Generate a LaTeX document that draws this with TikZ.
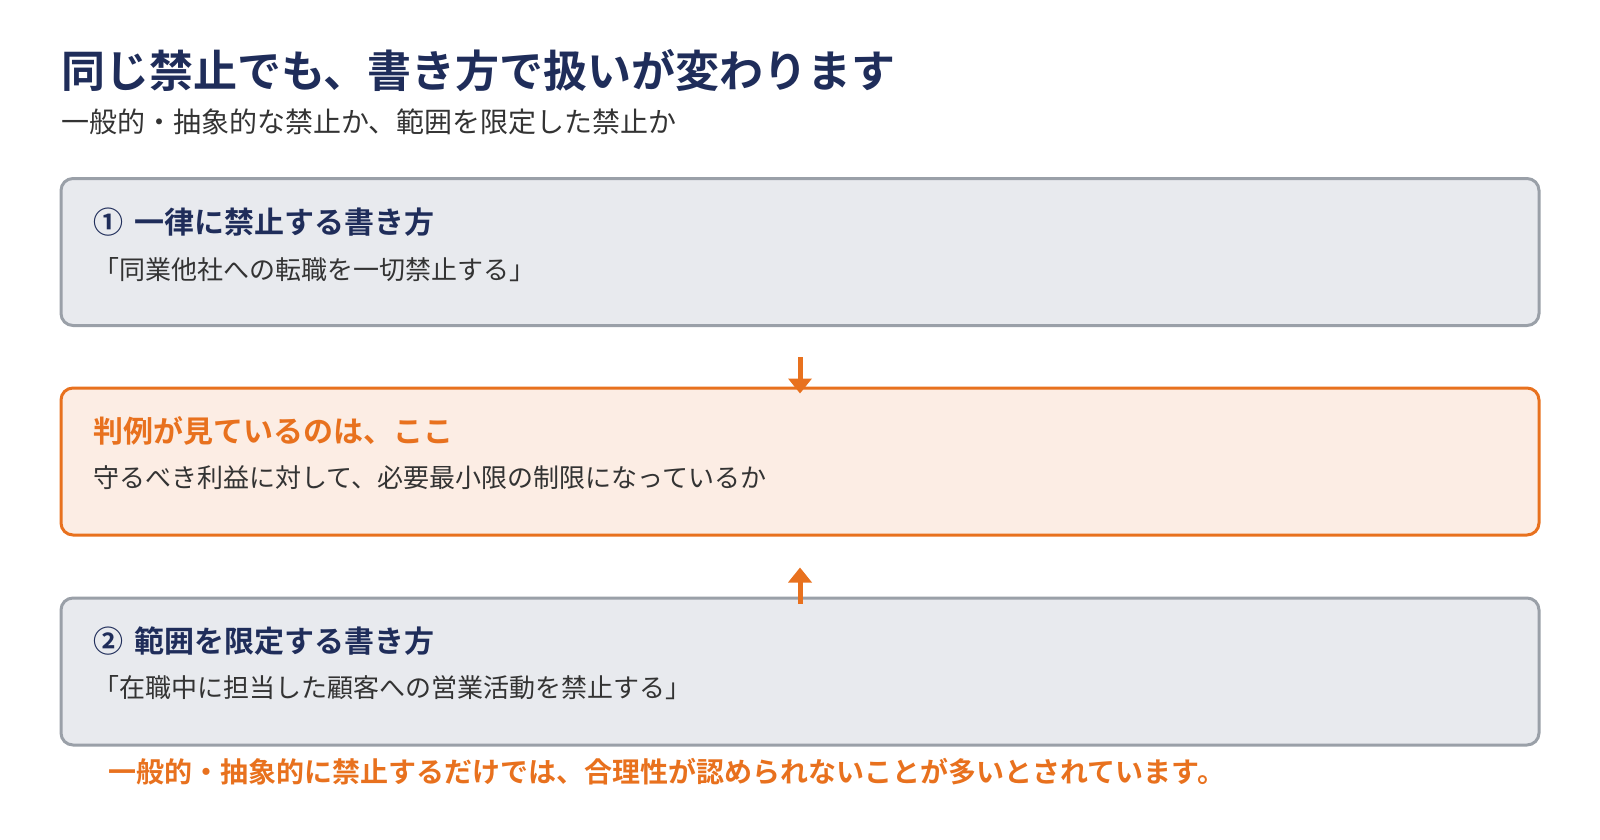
\documentclass[tikz,border=0pt]{standalone}
\usepackage{fontspec}
\setmainfont{Noto Sans CJK JP}[BoldFont={Noto Sans CJK JP Bold}]
\usepackage{tikz}
\usetikzlibrary{arrows.meta}
\definecolor{navy}{HTML}{1F2D5A}
\definecolor{ink}{HTML}{333333}
\definecolor{accent}{HTML}{E8711E}
\definecolor{greyline}{HTML}{9AA0A8}
\definecolor{greyfill}{HTML}{E8EAEE}
\definecolor{peach}{HTML}{FCEDE4}

\begin{document}
\begin{tikzpicture}[x=1pt,y=-1pt,
    box/.style={draw=greyline,fill=greyfill,line width=3pt,rounded corners=12pt,
        minimum width=1478pt,minimum height=147pt,inner sep=0pt},
    keybox/.style={box,draw=accent,fill=peach},
    head/.style={anchor=base west,inner sep=0pt,text=navy,
        font=\fontsize{30}{36}\selectfont\bfseries},
    body/.style={anchor=base west,inner sep=0pt,text=ink,
        font=\fontsize{26}{31}\selectfont},
    link/.style={draw=accent,line width=5pt,-{Triangle[width=23pt,length=15pt]}}]
    \useasboundingbox (0,0) rectangle (1600,840);
    % title
    \node [anchor=base west,inner sep=0pt,text=navy,font=\fontsize{44}{52}\selectfont\bfseries]
        (title) at (61,88) {同じ禁止でも、書き方で扱いが変わります};
    \node [anchor=base west,inner sep=0pt,text=ink,font=\fontsize{28}{34}\selectfont]
        (subtitle) at (61,132) {一般的・抽象的な禁止か、範囲を限定した禁止か};
    % the three boxes
    \node [box] (broad) at (800,252) {};
    \node [keybox] (court) at (800,461.5) {};
    \node [box] (narrow) at (800,671.5) {};
    \node [head] (broadhead) at ([xshift=34pt,yshift=-56pt]broad.north west) {①\hspace{11pt}一律に禁止する書き方};
    \node [body] (broadbody) at ([xshift=34pt,yshift=-102pt]broad.north west) {「同業他社への転職を一切禁止する」};
    \node [head,text=accent] (courthead) at ([xshift=34pt,yshift=-56pt]court.north west) {判例が見ているのは、ここ};
    \node [body] (courtbody) at ([xshift=34pt,yshift=-101pt]court.north west) {守るべき利益に対して、必要最小限の制限になっているか};
    \node [head] (narrowhead) at ([xshift=34pt,yshift=-56pt]narrow.north west) {②\hspace{11pt}範囲を限定する書き方};
    \node [body] (narrowbody) at ([xshift=34pt,yshift=-101pt]narrow.north west) {「在職中に担当した顧客への営業活動を禁止する」};
    % arrows
    \coordinate (downstart) at ([yshift=-30pt]broad.south);
    \coordinate (upend) at ([yshift=-31pt]court.south);
    \draw [link] (downstart) -- ([yshift=-7pt]court.north);
    \draw [link] ([yshift=-7pt]narrow.north) -- (upend);
    % note
    \node [anchor=base west,inner sep=0pt,text=accent,font=\fontsize{28}{33}\selectfont\bfseries]
        (note) at ([xshift=49pt,yshift=-36pt]narrow.south west)
        {一般的・抽象的に禁止するだけでは、合理性が認められないことが多いとされています。};
\end{tikzpicture}
\end{document}
